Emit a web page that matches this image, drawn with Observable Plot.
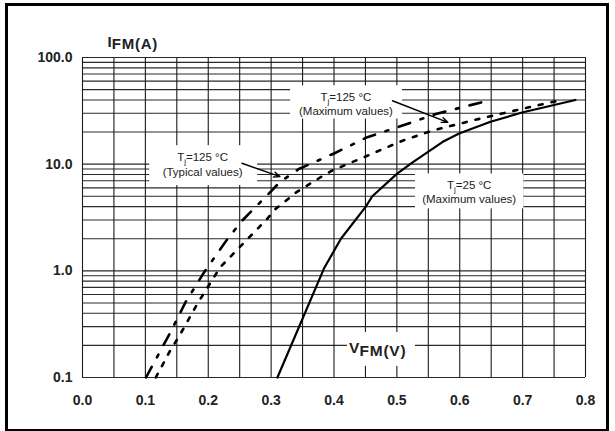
<!DOCTYPE html>
<html><head><meta charset="utf-8">
<script src="https://cdn.jsdelivr.net/npm/d3@7"></script>
<script src="https://cdn.jsdelivr.net/npm/@observablehq/plot@0.6"></script>
<style>
body{margin:0;background:#fff;}
#wrap{position:relative;width:615px;height:431px;}
#border{position:absolute;left:5px;top:3px;width:598px;height:423px;border:3px solid #000;pointer-events:none;}
svg{display:block;}
</style></head><body><div id="wrap"><div id="border"></div></div>
<script>
// Axis ticks and grid
const xTicks = [0.0, 0.1, 0.2, 0.3, 0.4, 0.5, 0.6, 0.7, 0.8];
const xTickLabels = ["0.0", "0.1", "0.2", "0.3", "0.4", "0.5", "0.6", "0.7", "0.8"];
const xGrid = [0, 0.05, 0.1, 0.15, 0.2, 0.25, 0.3, 0.35, 0.4, 0.45, 0.5, 0.55, 0.6, 0.65, 0.7, 0.75, 0.8];
const yTicks = [0.1, 1, 10, 100];
const yTickLabels = ["0.1", "1.0", "10.0", "100.0"];
const yGrid = [0.1, 0.2, 0.3, 0.4, 0.5, 0.6, 0.7, 0.8, 0.9,
               1, 2, 3, 4, 5, 6, 7, 8, 9,
               10, 20, 30, 40, 50, 60, 70, 80, 90, 100];

// Tj = 25 °C (maximum values) - solid
const vTj25Max = [0.310, 0.384, 0.411, 0.450, 0.461, 0.500, 0.525, 0.573, 0.599, 0.649, 0.699, 0.784];
const iTj25Max = [0.1, 1.05, 2.0, 3.96, 5.0, 8.1, 10.4, 16.2, 19.4, 25, 30.5, 40];

// Tj = 125 °C (typical values) - long dash
const vTj125Typ = [0.101, 0.140, 0.164, 0.194, 0.229, 0.254, 0.299, 0.314, 0.344, 0.400, 0.453, 0.493, 0.562, 0.649];
const iTj125Typ = [0.1, 0.266, 0.51, 0.98, 1.93, 2.96, 5.5, 6.8, 9.0, 12.6, 17.9, 21.4, 29.5, 40];

// Tj = 125 °C (maximum values) - dotted
const vTj125Max = [0.1166, 0.139, 0.150, 0.161, 0.1825, 0.219, 0.263, 0.294, 0.307, 0.341, 0.378, 0.397, 0.453, 0.509, 0.556, 0.618, 0.699, 0.762];
const iTj125Max = [0.1, 0.177, 0.225, 0.29, 0.49, 1.08, 2.0, 3.08, 3.8, 5.5, 7.5, 8.7, 12.0, 16.6, 20.6, 25.5, 33, 40];

// Annotations (data coordinates)
const noteBoxes = [
  {x1: 0.331, x2: 0.509, y1: 26.5, y2: 54.3},
  {x1: 0.107, x2: 0.2785, y1: 6.3, y2: 14.9},
  {x1: 0.5296, x2: 0.702, y1: 3.81, y2: 8.09},
  {x1: 0.4215, x2: 0.5296, y1: 0.127, y2: 0.264}
];
const noteLines = [
  {x: 0.419, y: 42.3, text: "Tj=125 °C"},
  {x: 0.419, y: 31.6, text: "(Maximum values)"},
  {x: 0.191, y: 11.6, text: "Tj=125 °C"},
  {x: 0.191, y: 8.4, text: "(Typical values)"},
  {x: 0.615, y: 6.38, text: "Tj=25 °C"},
  {x: 0.615, y: 4.72, text: "(Maximum values)"}
];
const noteArrows = [
  {x1: 0.493, y1: 39.3, x2: 0.581, y2: 24.7},
  {x1: 0.2536, y1: 10.2, x2: 0.314, y2: 7.64}
];

const toRows = (vs, is) => vs.map((v, k) => ({v, i: is[k]}));
const solid = toRows(vTj25Max, iTj25Max);
const dashed = toRows(vTj125Typ, iTj125Typ);
const dotted = toRows(vTj125Max, iTj125Max);

const font = "'Liberation Sans', Arial, Helvetica, sans-serif";

const chart = Plot.plot({
  width: 615,
  height: 431,
  marginLeft: 82,
  marginRight: 30,
  marginTop: 57,
  marginBottom: 54,
  style: {fontFamily: font, background: "#fff", color: "#222"},
  x: {domain: [0, 0.8]},
  y: {type: "log", domain: [0.1, 100]},
  marks: [
    Plot.ruleY(yGrid, {stroke: "#2a2a2a", strokeWidth: 1.1, strokeOpacity: 1}),
    Plot.ruleX(xGrid, {stroke: "#1a1a1a", strokeWidth: 1.1, strokeOpacity: 1}),
    Plot.rect(noteBoxes, {x1: "x1", x2: "x2", y1: "y1", y2: "y2", fill: "#fff"}),
    Plot.line(dotted, {x: "v", y: "i", stroke: "#000", strokeWidth: 2.6, strokeDasharray: "4,9"}),
    Plot.line(dashed, {x: "v", y: "i", stroke: "#000", strokeWidth: 2.6, strokeDasharray: "12,11,3,11"}),
    Plot.line(solid, {x: "v", y: "i", stroke: "#000", strokeWidth: 2.2}),
    Plot.arrow(noteArrows, {x1: "x1", y1: "y1", x2: "x2", y2: "y2", stroke: "#000", strokeWidth: 1.4, headLength: 7, headAngle: 45}),
    Plot.text(noteLines, {x: "x", y: "y", text: "text", fontSize: 11.5, fill: "#222", lineAnchor: "middle", textAnchor: "middle"}),
    Plot.text(["IFM(A)"], {frameAnchor: "top-left", dx: 25, dy: -11, lineAnchor: "bottom", textAnchor: "start", fontSize: 15, fontWeight: "bold", fill: "#222"}),
    Plot.text([{x: 0.424, y: 0.168}], {x: "x", y: "y", text: () => "VFM(V)", lineAnchor: "bottom", textAnchor: "start", fontSize: 15.5, fontWeight: "bold", fill: "#222"}),
    Plot.axisX(xTicks, {tickFormat: d => xTickLabels[xTicks.indexOf(d)], tickSize: 0, tickPadding: 18, fontSize: 14, fontWeight: "bold", label: null}),
    Plot.axisY(yTicks, {tickFormat: d => yTickLabels[yTicks.indexOf(d)], tickSize: 0, tickPadding: 10, fontSize: 14, fontWeight: "bold", label: null})
  ]
});

document.getElementById("wrap").prepend(chart);

// Subscripts / offset parts in labels
d3.select(chart).selectAll("text").each(function() {
  const el = d3.select(this);
  const t = this.textContent;
  if (/^Tj=/.test(t)) {
    el.text(null);
    el.append("tspan").text("T");
    el.append("tspan").attr("dy", 3).attr("font-size", 8).text("j");
    el.append("tspan").attr("dy", -3).text(t.slice(2));
  } else if (t === "IFM(A)" || t === "VFM(V)") {
    el.text(null);
    el.append("tspan").text(t[0]);
    el.append("tspan").attr("dy", 2.5).attr("letter-spacing", 0.8).text(t.slice(1));
  }
});
</script>
</body></html>
